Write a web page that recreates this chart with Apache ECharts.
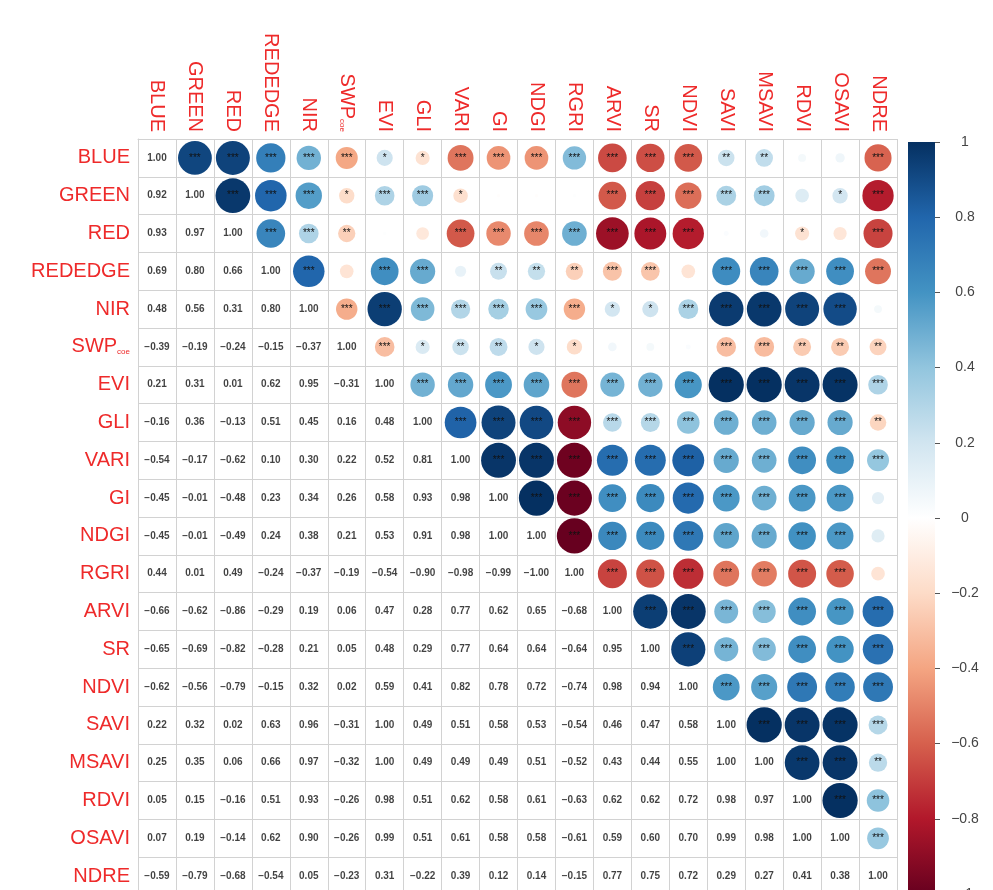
<!DOCTYPE html>
<html>
<head>
<meta charset="utf-8">
<script src="https://cdn.jsdelivr.net/npm/echarts@6/dist/echarts.min.js"></script>
<style>
  html, body { margin: 0; padding: 0; background: #ffffff; overflow: hidden; }
  #chart { width: 993px; height: 910px; }
</style>
</head>
<body>
<div id="chart"></div>
<script>
// Variables in matrix order (rows top to bottom, columns left to right)
const variables = ['BLUE', 'GREEN', 'RED', 'REDEDGE', 'NIR', 'SWP', 'EVI', 'GLI', 'VARI', 'GI',
  'NDGI', 'RGRI', 'ARVI', 'SR', 'NDVI', 'SAVI', 'MSAVI', 'RDVI', 'OSAVI', 'NDRE'];

// Lower-triangle Pearson coefficients: row i holds r(i, 0..i-1); the diagonal is 1
const lowerRows = [
  [],
  [0.92],
  [0.93, 0.97],
  [0.69, 0.80, 0.66],
  [0.48, 0.56, 0.31, 0.80],
  [-0.39, -0.19, -0.24, -0.15, -0.37],
  [0.21, 0.31, 0.01, 0.62, 0.95, -0.31],
  [-0.16, 0.36, -0.13, 0.51, 0.45, 0.16, 0.48],
  [-0.54, -0.17, -0.62, 0.10, 0.30, 0.22, 0.52, 0.81],
  [-0.45, -0.01, -0.48, 0.23, 0.34, 0.26, 0.58, 0.93, 0.98],
  [-0.45, -0.01, -0.49, 0.24, 0.38, 0.21, 0.53, 0.91, 0.98, 1.00],
  [0.44, 0.01, 0.49, -0.24, -0.37, -0.19, -0.54, -0.90, -0.98, -0.99, -1.00],
  [-0.66, -0.62, -0.86, -0.29, 0.19, 0.06, 0.47, 0.28, 0.77, 0.62, 0.65, -0.68],
  [-0.65, -0.69, -0.82, -0.28, 0.21, 0.05, 0.48, 0.29, 0.77, 0.64, 0.64, -0.64, 0.95],
  [-0.62, -0.56, -0.79, -0.15, 0.32, 0.02, 0.59, 0.41, 0.82, 0.78, 0.72, -0.74, 0.98, 0.94],
  [0.22, 0.32, 0.02, 0.63, 0.96, -0.31, 1.00, 0.49, 0.51, 0.58, 0.53, -0.54, 0.46, 0.47, 0.58],
  [0.25, 0.35, 0.06, 0.66, 0.97, -0.32, 1.00, 0.49, 0.49, 0.49, 0.51, -0.52, 0.43, 0.44, 0.55, 1.00],
  [0.05, 0.15, -0.16, 0.51, 0.93, -0.26, 0.98, 0.51, 0.62, 0.58, 0.61, -0.63, 0.62, 0.62, 0.72, 0.98, 0.97],
  [0.07, 0.19, -0.14, 0.62, 0.90, -0.26, 0.99, 0.51, 0.61, 0.58, 0.58, -0.61, 0.59, 0.60, 0.70, 0.99, 0.98, 1.00],
  [-0.59, -0.79, -0.68, -0.54, 0.05, -0.23, 0.31, -0.22, 0.39, 0.12, 0.14, -0.15, 0.77, 0.75, 0.72, 0.29, 0.27, 0.41, 0.38]
];

// |r| cut-offs for *, ** and *** (p < 0.05, 0.01, 0.001 at this sample size)
const starCuts = [0.16, 0.22, 0.28];

// Diverging red-blue palette from -1 to 1
const palette = ['#67001F', '#B2182B', '#D6604D', '#F4A582', '#FDDBC7', '#FFFFFF',
  '#D1E5F0', '#92C5DE', '#4393C3', '#2166AC', '#053061'];
const colorbarRange = [-1, 1];

const FONT = '"Liberation Sans", Arial, sans-serif';
const LABEL_RED = '#ee2a2a';
const CELL = 37.9;

function corr(i, j) {
  if (i === j) return 1;
  return i > j ? lowerRows[i][j] : lowerRows[j][i];
}
function fmt(v, digits) {
  const s = Math.abs(v).toFixed(digits);
  return (v < 0 && Number(s) !== 0 ? '\u2212' : '') + s;
}
function stars(r) {
  const a = Math.abs(r);
  let s = '';
  starCuts.forEach(c => { if (a >= c - 1e-9) s += '*'; });
  return s;
}

const upperData = [];
const lowerData = [];
for (let i = 0; i < variables.length; i++) {
  for (let j = 0; j < variables.length; j++) {
    const r = corr(i, j);
    if (j > i) upperData.push([j, i, r]);
    else lowerData.push([j, i, r]);
  }
}

function axisName(name) {
  return name === 'SWP' ? '{m|SWP}{s|coe}' : '{m|' + name + '}';
}
const labelRich = {
  m: { fontSize: 20, color: LABEL_RED, fontFamily: FONT },
  s: { fontSize: 8, color: LABEL_RED, fontFamily: FONT, padding: [9, 0, 0, 0] }
};

const chart = echarts.init(document.getElementById('chart'), null, { renderer: 'canvas' });

chart.setOption({
  backgroundColor: '#ffffff',
  animation: false,
  grid: [
    { left: 138, top: 139, width: 759, height: 756 },
    { left: 908, top: 142, width: 27, height: 752 }
  ],
  xAxis: [
    {
      type: 'category', gridIndex: 0, data: variables, position: 'top',
      boundaryGap: true,
      axisLine: { show: true, lineStyle: { color: '#d2d2d2' } },
      axisTick: { show: false },
      axisLabel: { rotate: 90, margin: 7, formatter: axisName, rich: labelRich, interval: 0 },
      splitLine: { show: true, interval: 0, lineStyle: { color: '#d2d2d2', width: 1 } }
    },
    { type: 'category', gridIndex: 1, data: [''], show: false }
  ],
  yAxis: [
    {
      type: 'category', gridIndex: 0, data: variables, inverse: true,
      boundaryGap: true,
      axisLine: { show: true, lineStyle: { color: '#d2d2d2' } },
      axisTick: { show: false },
      axisLabel: { margin: 8, formatter: axisName, rich: labelRich, interval: 0 },
      splitLine: { show: true, interval: 0, lineStyle: { color: '#d2d2d2', width: 1 } }
    },
    {
      type: 'value', gridIndex: 1, position: 'right',
      min: colorbarRange[0], max: colorbarRange[1], interval: 0.2,
      axisLine: { show: false },
      axisTick: { show: true, length: 5, lineStyle: { color: '#555555' } },
      splitLine: { show: false },
      axisLabel: {
        margin: 30, align: 'center', fontSize: 14, color: '#444444', fontFamily: FONT,
        formatter: v => Math.abs(v) < 1e-9 ? '0' : (Math.abs(Math.abs(v) - 1) < 1e-9 ? fmt(v, 0) : fmt(v, 1))
      }
    }
  ],
  visualMap: {
    show: false, type: 'continuous', seriesIndex: 0, dimension: 2,
    min: -1, max: 1, inRange: { color: palette }
  },
  series: [
    {
      name: 'upper', type: 'scatter', xAxisIndex: 0, yAxisIndex: 0,
      data: upperData,
      symbol: 'circle',
      symbolSize: v => Math.sqrt(Math.abs(v[2])) * CELL * 0.93,
      itemStyle: { opacity: 1 },
      label: {
        show: true, position: 'inside', color: '#111111', fontSize: 10,
        fontFamily: FONT, formatter: p => stars(p.value[2])
      },
      silent: true, z: 3
    },
    {
      name: 'lower', type: 'scatter', xAxisIndex: 0, yAxisIndex: 0,
      data: lowerData,
      symbol: 'circle', symbolSize: 1,
      itemStyle: { color: 'rgba(0,0,0,0)' },
      label: {
        show: true, position: 'inside', color: '#111111', fontSize: 10, fontWeight: 'bold',
        fontFamily: FONT, formatter: p => fmt(p.value[2], 2)
      },
      silent: true, z: 3
    },
    {
      name: 'colorbar', type: 'custom', xAxisIndex: 1, yAxisIndex: 1,
      data: [[0, colorbarRange[0], colorbarRange[1]]],
      renderItem: (params, api) => {
        const top = api.coord([0, api.value(2)]);
        const bottom = api.coord([0, api.value(1)]);
        const w = api.size([1, 0])[0];
        const stops = palette.slice().reverse().map((c, k) => ({ offset: k / (palette.length - 1), color: c }));
        return {
          type: 'rect',
          shape: { x: top[0] - w / 2, y: top[1], width: w, height: bottom[1] - top[1] },
          style: { fill: new echarts.graphic.LinearGradient(0, 0, 0, 1, stops) }
        };
      },
      silent: true
    }
  ]
});
</script>
</body>
</html>
